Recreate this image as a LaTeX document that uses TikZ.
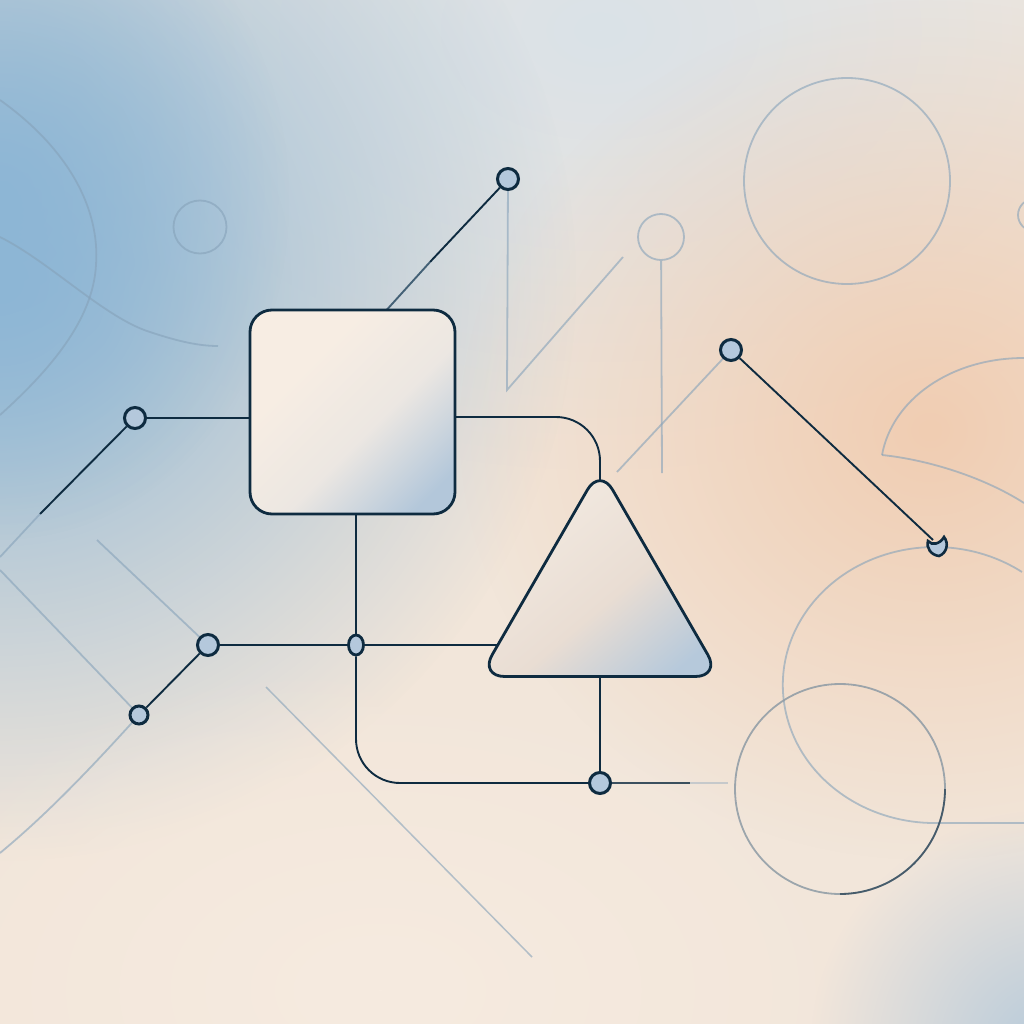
\documentclass[tikz,border=0pt]{standalone}
\usetikzlibrary{shapes.geometric,fadings,calc}
\pgfdeclarelayer{back}
\pgfdeclarelayer{lines}
\pgfsetlayers{back,lines,main}
\tikzfading[name=softfade, inner color=transparent!0, outer color=transparent!100]
\definecolor{navy}{HTML}{0E2B40}
\definecolor{dotfill}{HTML}{B4C8DC}
\definecolor{faint}{HTML}{86A2B9}
\definecolor{bgbase}{HTML}{F2E6DA}
\definecolor{topgray}{HTML}{DAE2E8}
\definecolor{bgblue}{HTML}{8DB6D5}
\definecolor{bgpeach}{HTML}{F0CDB2}
\definecolor{bgcream}{HTML}{F6EBE0}
\definecolor{brblue}{HTML}{B6CADB}
\definecolor{shtop}{HTML}{F7EDE3}
\definecolor{shmid}{HTML}{ECE7E2}
\definecolor{shbot}{HTML}{B3C7DA}
\definecolor{trtop}{HTML}{F1E8DF}
\definecolor{trmid}{HTML}{E9DDD3}
\definecolor{trbot}{HTML}{B6C9DB}
\definecolor{ringgray}{HTML}{8E9BA5}
\pgfdeclareverticalshading{sqshade}{100bp}{color(0bp)=(shbot); color(22bp)=(shbot); color(44bp)=(shmid); color(66bp)=(shtop); color(100bp)=(shtop)}
\pgfdeclareverticalshading{trshade}{100bp}{color(0bp)=(trbot); color(22bp)=(trbot); color(44bp)=(trmid); color(68bp)=(trtop); color(100bp)=(trtop)}
\begin{document}
\begin{tikzpicture}[x=1pt,y=-1pt,
  dot/.style={circle,draw=navy,line width=3pt,fill=dotfill,minimum size=21pt,inner sep=0pt},
  conn/.style={draw=navy,line width=1.9pt},
  faintline/.style={draw=faint,line width=1.8pt,draw opacity=0.6},
  ring/.style={circle,draw=faint,line width=1.8pt,draw opacity=0.6,inner sep=0pt},
  blob/.style={path fading=softfade}
]
\useasboundingbox (0,0) rectangle (1024,1024);

% ---------- background ----------
\begin{pgfonlayer}{back}
\begin{scope}
\clip (0,0) rectangle (1024,1024);
\fill[bgbase] (0,0) rectangle (1024,1024);
\fill[topgray,blob] (600,30) ellipse [x radius=640, y radius=440];
\fill[bgblue,blob] (0,280) ellipse [x radius=580, y radius=580];
\fill[bgblue,blob] (0,200) ellipse [x radius=290, y radius=340];
\fill[bgpeach,blob] (930,430) ellipse [x radius=470, y radius=430];
\fill[bgcream,blob] (380,990) ellipse [x radius=520, y radius=330];
\fill[brblue,blob] (1050,1050) ellipse [x radius=240, y radius=240];
\end{scope}
\end{pgfonlayer}

% ---------- nodes ----------
\node[rectangle,draw=navy,line width=2.8pt,rounded corners=22pt,
      minimum width=205pt,minimum height=204pt,inner sep=0pt,
      shading=sqshade,shading angle=45] (sq) at (352.5,412) {};
\node[regular polygon,regular polygon sides=3,draw=navy,line width=2.8pt,rounded corners=25pt,
      minimum size=278pt,inner sep=0pt,
      shading=trshade,shading angle=40] (tri) at (600,607) {};

\node[dot] (A) at (135,418) {};
\node[dot] (B) at (508,179) {};
\node[dot] (C) at (731,350) {};
\node[dot] (D) at (208,645) {};
\node[dot,minimum size=18pt] (E) at (139,715) {};
\node[ellipse,draw=navy,line width=2.8pt,fill=dotfill,minimum width=15pt,minimum height=20pt,inner sep=0pt] (F) at (356,645) {};
\node[dot] (G) at (600,783) {};
\coordinate (H) at (933,540);
\draw[navy,line width=2.6pt,fill=dotfill]
  (928,541) .. controls (932,546) and (940,544) .. (944,537)
  .. controls (949,543) and (947,553) .. (939,556)
  .. controls (931,555) and (926,548) .. (928,541) -- cycle;

% named free ends
\coordinate (amid) at (40,514);
\coordinate (aend) at (0,557);
\coordinate (bmid) at (430,262);
\coordinate (sqtop) at (383,314);
\coordinate (r1) at (600,417);
\coordinate (b1) at (356,783);
\coordinate (g1) at (690,783);
\coordinate (g2) at (728,783);
\coordinate (v1) at (507,390);
\coordinate (v2) at (623,257);
\coordinate (w1) at (662,473);
\coordinate (c1) at (617,472);
\coordinate (d0) at (97,540);
\coordinate (e0) at (0,570);
\coordinate (e1) at (0,853);
\coordinate (l1) at (266,687);
\coordinate (l2) at (532,957);

\begin{pgfonlayer}{lines}
% faint decorative lines
\begin{scope}
\clip (0,0) rectangle (1024,1024);
\draw[faintline] (B) -- (v1) -- (v2);
\node[ring,minimum size=46pt] (R1) at (661,237) {};
\draw[faintline] (R1) -- (w1);
\draw[faintline] (C) -- (c1);
\node[ring,minimum size=206pt] (R2) at (847,181) {};
\node[ring,minimum size=53pt] (R3) at (200,227) {};
\node[ring,minimum size=32pt] (R4) at (1034,215) {};
\draw[faintline] (0,100) .. controls (70,150) and (100,210) .. (96,265)
  .. controls (93,320) and (50,370) .. (0,415);
\draw[faintline] (0,237) .. controls (50,262) and (105,318) .. (150,332)
  .. controls (180,342) and (200,346) .. (218,346);
\draw[faintline] (d0) -- (D);
\draw[faintline] (e0) -- (E);
\draw[faintline] (E) .. controls (80,780) and (40,820) .. (e1);
\draw[faintline,line width=1.5pt] (l1) -- (l2);
\draw[faintline] (882,455) .. controls (892,400) and (950,358) .. (1024,358);
\draw[faintline] (882,455) .. controls (930,460) and (985,478) .. (1024,503);
\draw[faintline] (1022,572) arc[start angle=305,end angle=90,x radius=152,y radius=138] -- (1024,823);
\draw[ringgray,line width=1.8pt,draw opacity=0.85] (840,789) circle[radius=105];
\draw[navy,line width=1.8pt,draw opacity=0.6] (945,789) arc[start angle=0,end angle=90,radius=105];
\end{scope}

% connectors
\draw[conn] (A) -- (A -| sq.center);
\draw[conn] (A) -- (amid);
\draw[faintline] (amid) -- (aend);
\draw[conn] (B) -- (bmid);
\draw[conn,draw=navy!55!faint] (bmid) -- (sqtop);
\draw[conn,rounded corners=44pt] (r1 -| sq.center) -- (r1) -- (tri.center);
\draw[conn] (F) -- (F |- sq.center);
\draw[conn,rounded corners=44pt] (F) -- (b1) -- (G);
\draw[conn] (D) -- (F);
\draw[conn] (F) -- (F -| tri.center);
\draw[conn] (D) -- (E);
\draw[conn] (tri.center) -- (G);
\draw[conn,draw opacity=0.8] (G) -- (g1);
\draw[faintline,draw opacity=0.4] (g1) -- (g2);
\draw[conn] (C) -- (H);
\end{pgfonlayer}
\end{tikzpicture}
\end{document}
